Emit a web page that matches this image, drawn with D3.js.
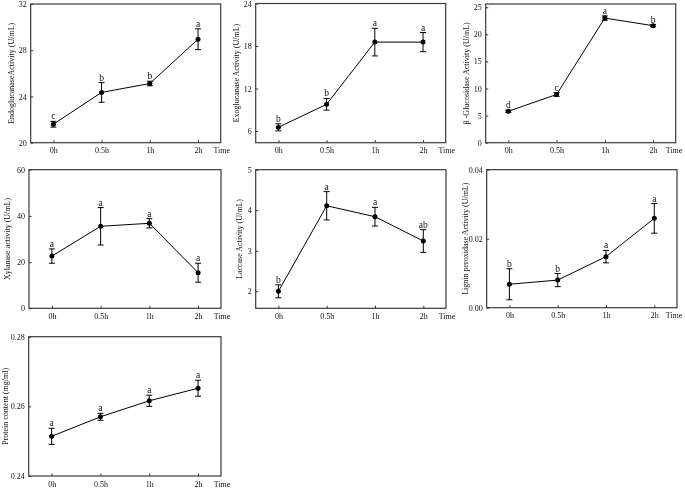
<!DOCTYPE html>
<html><head><meta charset="utf-8">
<script src="https://cdn.jsdelivr.net/npm/d3@7/dist/d3.min.js"></script>
<style>
body{margin:0;background:#fff;}
svg{display:block;font-family:"Liberation Serif","Times New Roman",serif;will-change:transform;-webkit-font-smoothing:antialiased;}
</style></head><body>
<svg id="c" width="685" height="488"></svg>
<script>
const categories = ["0h","0.5h","1h","2h"];

const endoMean = [21.6, 24.35, 25.12, 28.95];
const endoErr  = [0.25, 0.85, 0.2, 0.9];
const endoLetters = ["c","b","b","a"];
const endoTicks = [20,24,28,32];

const exoMean = [6.52, 9.77, 18.55, 18.55];
const exoErr  = [0.5, 0.82, 1.95, 1.35];
const exoLetters = ["b","b","a","a"];
const exoTicks = [6,12,18,24];

const glucMean = [5.8, 8.9, 23.0, 21.6];
const glucErr  = [0.2, 0.35, 0.4, 0.2];
const glucLetters = ["d","c","a","b"];
const glucTicks = [0,5,10,15,20,25];

const xylMean = [22.6, 35.5, 36.8, 15.4];
const xylErr  = [3.1, 8.1, 2.0, 4.1];
const xylLetters = ["a","a","a","a"];
const xylTicks = [0,20,40,60];

const lacMean = [2.0, 4.11, 3.84, 3.24];
const lacErr  = [0.16, 0.35, 0.23, 0.28];
const lacLetters = ["b","a","a","ab"];
const lacTicks = [2,3,4,5];

const ligMean = [0.0068, 0.0080, 0.0148, 0.0259];
const ligErr  = [0.0045, 0.0019, 0.0018, 0.0043];
const ligLetters = ["b","b","a","a"];
const ligTicks = [0.00,0.02,0.04];

const protMean = [0.2514, 0.2570, 0.2616, 0.2652];
const protErr  = [0.0023, 0.0010, 0.0016, 0.0023];
const protLetters = ["a","a","a","a"];
const protTicks = [0.24,0.26,0.28];

const panels = [
  {label:"EndoglucanaseActivity (U/mL)", mean:endoMean, err:endoErr, letters:endoLetters, ticks:endoTicks, domain:[20,32], fmt:"d",
   box:[30.7,4,220.7,142.7], labelX:11.7},
  {label:"Exoglucanase Activity (U/mL)", mean:exoMean, err:exoErr, letters:exoLetters, ticks:exoTicks, domain:[4.35,24], fmt:"d",
   box:[255.7,3.5,445.7,142.7], labelX:236.7},
  {label:"β -Glucosidase Activity (U/mL)", mean:glucMean, err:glucErr, letters:glucLetters, ticks:glucTicks, domain:[0,25.6], fmt:"d",
   box:[485.7,4,675.7,142.7], labelX:466},
  {label:"Xylanase activity (U/mL)", mean:xylMean, err:xylErr, letters:xylLetters, ticks:xylTicks, domain:[0,60], fmt:"d",
   box:[29,169.7,221,308.3], labelX:7.5},
  {label:"Laccase Activity (U/mL)", mean:lacMean, err:lacErr, letters:lacLetters, ticks:lacTicks, domain:[1.58,5], fmt:"d",
   box:[255.7,169.7,446,308.3], labelX:239},
  {label:"Lignin peroxidase Activity (U/mL)", mean:ligMean, err:ligErr, letters:ligLetters, ticks:ligTicks, domain:[0,0.04], fmt:".2f",
   box:[486.7,169.7,677,307.7], labelX:465},
  {label:"Protein content (mg/ml)", mean:protMean, err:protErr, letters:protLetters, ticks:protTicks, domain:[0.24,0.28], fmt:".2f",
   box:[28.7,336.7,221,476], labelX:5}
];

const svg = d3.select("#c");

panels.forEach(p => {
  const [l,t,r,b] = p.box;
  const x = d3.scalePoint().domain(categories).range([l,r]).padding(0.47);
  const y = d3.scaleLinear().domain(p.domain).range([b,t]);
  const g = svg.append("g");

  const xa = g.append("g").attr("transform",`translate(0,${b})`)
    .call(d3.axisBottom(x).tickSizeInner(-2.5).tickSizeOuter(0).tickPadding(5));
  xa.select(".domain").remove();
  xa.selectAll("line").attr("stroke","#333");
  xa.selectAll("text").attr("font-size",8).attr("font-family","Liberation Serif").attr("fill","#111");
  g.append("text").attr("x",Math.min(r+1, 674)).attr("y",b+5).attr("dy","0.71em")
    .attr("text-anchor","middle").attr("font-size",8).attr("fill","#111").text("Time");

  const ya = g.append("g").attr("transform",`translate(${l},0)`)
    .call(d3.axisLeft(y).tickValues(p.ticks).tickFormat(d3.format(p.fmt)).tickSizeInner(-2.5).tickSizeOuter(0).tickPadding(4));
  ya.select(".domain").remove();
  ya.selectAll("line").attr("stroke","#333");
  ya.selectAll("text").attr("font-size",8).attr("font-family","Liberation Serif").attr("fill","#111");

  g.append("rect").attr("x",l).attr("y",t).attr("width",r-l).attr("height",b-t)
    .attr("fill","none").attr("stroke","#3a3a3a").attr("stroke-width",1.2);

  g.append("text").attr("transform",`translate(${p.labelX},${(t+b)/2}) rotate(-90)`)
    .attr("text-anchor","middle").attr("dominant-baseline","central")
    .attr("font-size",8).attr("fill","#111").text(p.label);

  const data = categories.map((c,i)=>({c, m:p.mean[i], e:p.err[i], L:p.letters[i]}));

  g.append("path").datum(data)
    .attr("d", d3.line().x(d=>x(d.c)).y(d=>y(d.m)))
    .attr("fill","none").attr("stroke","#000").attr("stroke-width",1);

  const eb = g.selectAll(".eb").data(data).enter().append("g");
  eb.append("line").attr("x1",d=>x(d.c)).attr("x2",d=>x(d.c))
    .attr("y1",d=>y(d.m-d.e)).attr("y2",d=>y(d.m+d.e)).attr("stroke","#000").attr("stroke-width",1);
  eb.append("line").attr("x1",d=>x(d.c)-3).attr("x2",d=>x(d.c)+3)
    .attr("y1",d=>y(d.m+d.e)).attr("y2",d=>y(d.m+d.e)).attr("stroke","#000").attr("stroke-width",1);
  eb.append("line").attr("x1",d=>x(d.c)-3).attr("x2",d=>x(d.c)+3)
    .attr("y1",d=>y(d.m-d.e)).attr("y2",d=>y(d.m-d.e)).attr("stroke","#000").attr("stroke-width",1);

  g.selectAll(".pt").data(data).enter().append("circle")
    .attr("cx",d=>x(d.c)).attr("cy",d=>y(d.m)).attr("r",2.5).attr("fill","#000");

  g.selectAll(".lt").data(data).enter().append("text")
    .attr("x",d=>x(d.c)).attr("y",d=>y(d.m+d.e)-2)
    .attr("text-anchor","middle").attr("font-size",9.5).attr("fill","#111").text(d=>d.L);
});
</script>
</body></html>
